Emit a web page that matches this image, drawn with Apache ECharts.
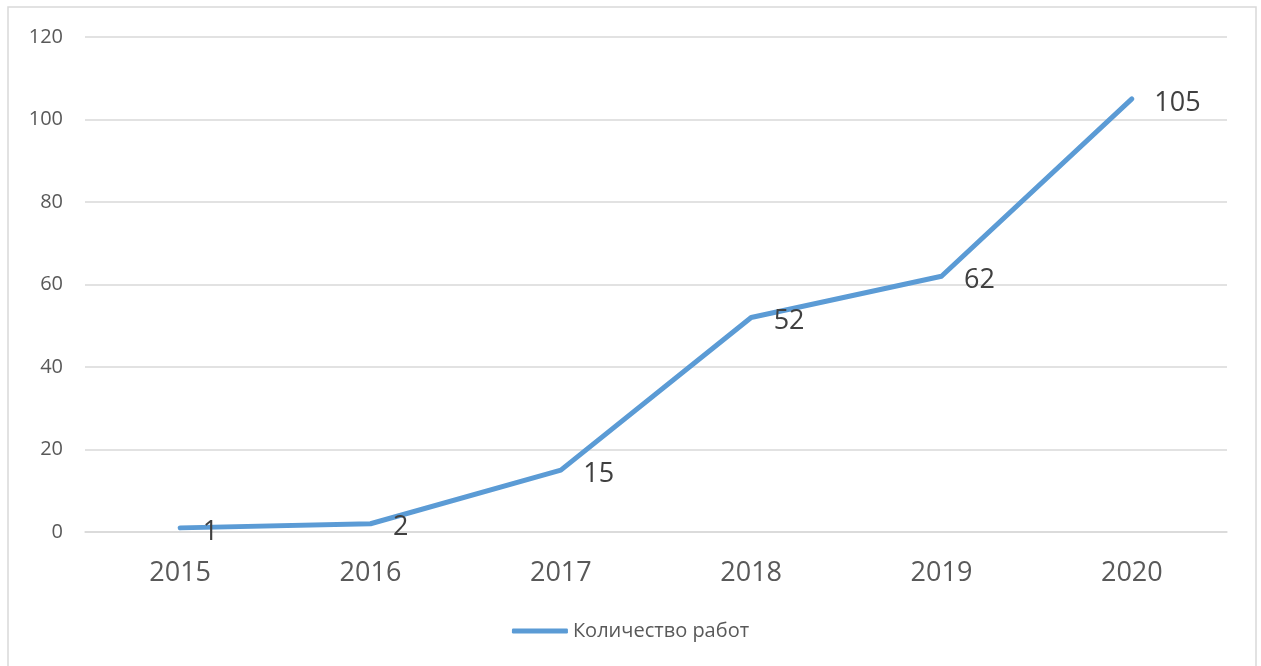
<!DOCTYPE html>
<html><head><meta charset="utf-8">
<script src="https://cdn.jsdelivr.net/npm/echarts@6/dist/echarts.min.js"></script>
<style>html,body{margin:0;padding:0;background:#fff}#c{width:1261px;height:666px}</style>
</head><body><div id="c"></div>
<script>
const categories = ['2015','2016','2017','2018','2019','2020'];
const values = [1, 2, 15, 52, 62, 105];
const seriesName = 'Количество работ';
const yTicks = {min: 0, max: 120, interval: 20};

const chart = echarts.init(document.getElementById('c'));
const font = '"Open Sans", sans-serif';
chart.setOption({
  animation: false,
  textStyle: {fontFamily: font},
  graphic: [{type: 'rect', shape: {x: 8, y: 7, width: 1248, height: 670}, style: {fill: 'none', stroke: '#d9d9d9', lineWidth: 1.5}}],
  grid: {left: 85, right: 34, top: 37, bottom: 134},
  legend: {bottom: 20, left: 'center', itemWidth: 56, itemHeight: 5, itemGap: 8,
    textStyle: {fontSize: 20, color: '#595959', fontFamily: font},
    data: [{name: seriesName, icon: 'roundRect'}]},
  xAxis: {type: 'category', data: categories, boundaryGap: true,
    axisLine: {show: true, lineStyle: {color: '#d9d9d9', width: 1.5}},
    axisTick: {show: false},
    axisLabel: {fontSize: 27, color: '#595959', margin: 28}},
  yAxis: {type: 'value', min: yTicks.min, max: yTicks.max, interval: yTicks.interval,
    axisLine: {show: false}, axisTick: {show: false},
    splitLine: {lineStyle: {color: '#d9d9d9', width: 1.5}},
    axisLabel: {fontSize: 20, color: '#595959', margin: 22}},
  series: [{name: seriesName, type: 'line', data: values, symbol: 'circle', symbolSize: 1, showSymbol: true,
    lineStyle: {color: '#5B9BD5', width: 5, cap: 'round', join: 'round'},
    itemStyle: {color: '#5B9BD5'},
    label: {show: true, position: 'right', distance: 22, offset: [0, 4], fontSize: 27, color: '#404040', fontFamily: font}}]
});
</script></body></html>
